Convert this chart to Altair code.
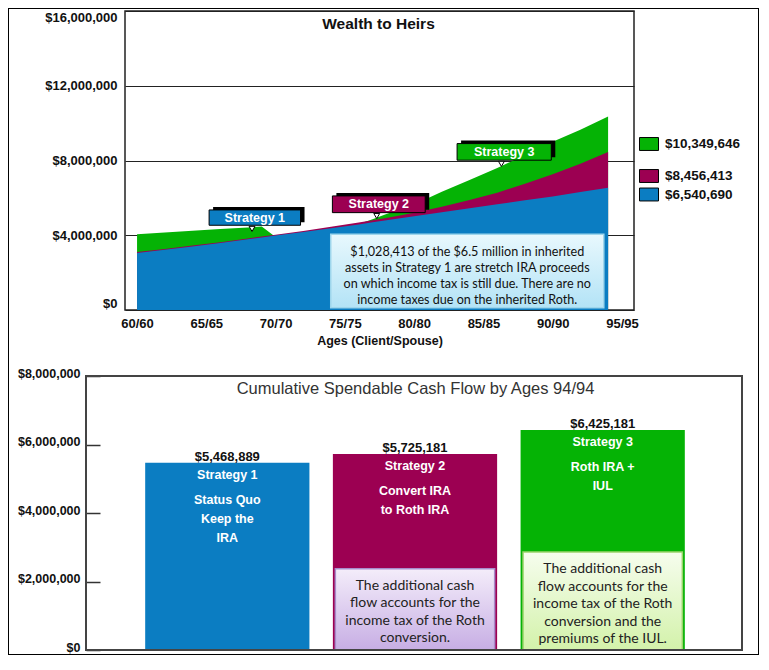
import altair as alt
import pandas as pd

# ---------------- data ----------------
ages = [60, 62, 64, 66, 68, 69, 70, 72, 74, 76, 77, 78, 80, 82, 84, 86, 88, 90, 92, 94]
strategy1_wealth = [3050000, 3220000, 3400000, 3580000, 3780000, 3880000, 3980000, 4170000, 4380000, 4580000,
                    4690000, 4800000, 5020000, 5230000, 5450000, 5660000, 5870000, 6080000, 6310000, 6540690]
strategy2_wealth = [3100000, 3270000, 3450000, 3630000, 3830000, 3930000, 4030000, 4230000, 4450000, 4680000,
                    4800000, 4920000, 5200000, 5520000, 5880000, 6280000, 6750000, 7270000, 7820000, 8456413]
strategy3_wealth = [4050000, 4150000, 4240000, 4330000, 4420000, 4470000, 3900000, 4050000, 4300000, 4600000,
                    4860000, 5140000, 5650000, 6330000, 6950000, 7600000, 8300000, 9000000, 9650000, 10349646]
strategies = ["Strategy 1", "Strategy 2", "Strategy 3"]
final_wealth = [6540690, 8456413, 10349646]
age_ticks = [60, 65, 70, 75, 80, 85, 90, 95]
wealth_ticks = [0, 4000000, 8000000, 12000000, 16000000]

cash_flow = [5468889, 5725181, 6425181]
cash_ticks = [0, 2000000, 4000000, 6000000, 8000000]
bar_descriptions = ["Status Quo\nKeep the\nIRA", "Convert IRA\nto Roth IRA", "Roth IRA +\nIUL"]
note_strategies = ["Strategy 2", "Strategy 3"]
note_tops = [2374000, 2860000]
notes = ["The additional cash\nflow accounts for the\nincome tax of the Roth\nconversion.",
         "The additional cash\nflow accounts for the\nincome tax of the Roth\nconversion and the\npremiums of the IUL."]

# annotation anchors (data units)
callout_left = [65.2, 74.1, 83.1]
callout_right = [71.8, 80.8, 89.9]
callout_low = [4535000, 5210000, 8016000]
callout_high = [5355000, 6105000, 8905000]
pointer_age = [68.3, 77.3, 86.3]
pointer_value = [4340000, 5030000, 7820000]
wealth_note = ("$1,028,413 of the $6.5 million in inherited\nassets in Strategy 1 are stretch IRA proceeds\n"
               "on which income tax is still due.  There are no\nincome taxes due on the inherited Roth.")
wealth_note_box = [73.98, 93.69, 120000, 4050000]

AGE_MIN, AGE_MAX = 59.13, 95.87
WEALTH_MAX = 16000000
CASH_MAX = 8000000

# ---------------- style / layout ----------------
COLORS = {"Strategy 1": "#0B7DC2", "Strategy 2": "#9C0052", "Strategy 3": "#05B305"}
ARIAL = "Liberation Sans"
CALIBRI = "Lato"
O = 9              # page offset of the view origin
W, H = 751, 647    # whole figure frame (fits the page without scrolling)
TOP_SHIFT = 2
BOT_SHIFT = -3


def X(px):
    return px - O


def YT(px):
    return px + TOP_SHIFT - O


def YB(px):
    return px + BOT_SHIFT - O


XS_TOP = alt.Scale(domain=[AGE_MIN, AGE_MAX], range=[X(126), X(635)], nice=False, zero=False)
YS_TOP = alt.Scale(domain=[0, WEALTH_MAX], range=[YT(309), YT(10)], nice=False, zero=False)
XS_BOT = alt.Scale(domain=strategies, range=[X(88), X(744)], paddingInner=0.125, paddingOuter=0.31)
YS_BOT = alt.Scale(domain=[0, CASH_MAX], range=[YB(654), YB(380)], nice=False, zero=False)
XS_FRAME = alt.Scale(domain=[0, 1], range=[X(87), X(743)], nice=False, zero=False)

AX_TOP_X = alt.Axis(orient="bottom", offset=YT(309) - H, values=age_ticks,
                    labelExpr="datum.value + '/' + datum.value", domain=False, ticks=False,
                    tickSize=0, grid=False, labelPadding=7, labelFont=ARIAL, labelFontSize=13,
                    labelFontWeight="bold", labelColor="#111", title="Ages (Client/Spouse)",
                    titleFont=ARIAL, titleFontSize=12.5, titleFontWeight="bold",
                    titleColor="#111", titlePadding=4)
AX_TOP_Y = alt.Axis(orient="left", offset=-X(126), values=wealth_ticks, format="$,.0f",
                    domain=False, ticks=False, tickSize=0, grid=True, gridColor="#222",
                    gridWidth=1, gridOpacity=1, labelPadding=8, labelFlush=True,
                    labelFont=ARIAL, labelFontSize=13, labelFontWeight="bold",
                    labelColor="#111", title="Wealth to Heirs", titleAngle=0, titleX=X(379) - X(126),
                    titleY=YT(22), titleAlign="center", titleBaseline="middle", titleFont=ARIAL,
                    titleFontSize=15.5, titleFontWeight="bold", titleColor="#111")
AX_BOT_X = alt.Axis(orient="top", offset=-YB(380), labels=False, ticks=False, domain=False, grid=False,
                    title="Cumulative Spendable Cash Flow by Ages 94/94", titleY=12,
                    titleBaseline="middle", titleFont=ARIAL, titleFontSize=16.5,
                    titleFontWeight="normal", titleColor="#333")
AX_BOT_Y = alt.Axis(orient="left", offset=-X(101), values=cash_ticks, format="$,.0f", domain=False,
                    grid=False, ticks=True, tickSize=14, tickColor="#333", tickWidth=1.5,
                    labelPadding=6, labelOffset=-3, labelFont=ARIAL, labelFontSize=12.5,
                    labelFontWeight="bold", labelColor="#111", title=None)

RECT_PATH = "M-1,-0.68H1V0.68H-1Z"


def tx(field):
    return alt.X(field, type="quantitative", scale=XS_TOP, axis=AX_TOP_X)


def ty(field):
    return alt.Y(field, type="quantitative", scale=YS_TOP, axis=AX_TOP_Y)


def bx():
    return alt.X("strategy:N", scale=XS_BOT, axis=AX_BOT_X)


def by(field):
    return alt.Y(field, type="quantitative", scale=YS_BOT, axis=AX_BOT_Y)


# ---------------- top chart ----------------
rows = []
for s, series, fv in zip(strategies, [strategy1_wealth, strategy2_wealth, strategy3_wealth], final_wealth):
    for a, v in zip(ages, series):
        rows.append({"age": a, "wealth": v, "strategy": s, "label": f"${fv:,}"})
wealth = pd.DataFrame(rows)

frame_df = pd.DataFrame({"a0": [AGE_MIN], "a1": [AGE_MAX], "w0": [0], "w1": [WEALTH_MAX]})
frame_top = alt.Chart(frame_df).mark_rect(color="white", fillOpacity=0, stroke="#222", strokeWidth=1.5).encode(
    x=tx("a0"), x2="a1:Q", y=ty("w0"), y2="w1:Q")

legend_top_px = {"Strategy 3": 133, "Strategy 2": 165, "Strategy 1": 183.5}


def area_layer(s):
    return alt.Chart(wealth).transform_filter(alt.datum.strategy == s).mark_area().encode(
        x=tx("age"),
        y=ty("wealth"),
        color=alt.Color("label:N", scale=alt.Scale(range=[COLORS[s]]),
                        legend=alt.Legend(orient="none", legendX=X(640), legendY=YT(legend_top_px[s]),
                                          title=None, symbolType=RECT_PATH, symbolSize=361,
                                          symbolStrokeColor="black", symbolStrokeWidth=1, symbolOpacity=1,
                                          padding=0, labelFont=ARIAL, labelFontSize=13.5,
                                          labelFontWeight="bold", labelColor="#111", labelOffset=6)),
    )


areas = [area_layer("Strategy 3"), area_layer("Strategy 2"), area_layer("Strategy 1")]

note_df = pd.DataFrame({"x1": [wealth_note_box[0]], "x2": [wealth_note_box[1]],
                        "y1": [wealth_note_box[2]], "y2": [wealth_note_box[3]],
                        "xm": [(wealth_note_box[0] + wealth_note_box[1]) / 2], "text": [wealth_note]})
cyan_grad = alt.Gradient(gradient="linear",
                         stops=[alt.GradientStop(color="#E8F8FD", offset=0),
                                alt.GradientStop(color="#B3E3F6", offset=1)],
                         x1=0, x2=0, y1=0, y2=1)
note_box = alt.Chart(note_df).mark_rect(fill=cyan_grad, stroke="#9ED6EC", strokeWidth=1.5).encode(
    x=tx("x1"), x2="x2:Q", y=ty("y1"), y2="y2:Q")
note_text = alt.Chart(note_df).mark_text(baseline="top", dy=11.5, lineBreak="\n", lineHeight=16,
                                         font=CALIBRI, fontSize=12.6, color="#111").encode(
    x=tx("xm"), y=ty("y2"), text="text:N")

callouts = pd.DataFrame({"strategy": strategies, "left": callout_left, "right": callout_right,
                         "low": callout_low, "high": callout_high,
                         "pa": pointer_age, "pv": pointer_value})
callouts["ma"] = (callouts["left"] + callouts["right"]) / 2
callouts["mv"] = (callouts["low"] + callouts["high"]) / 2

shadow = alt.Chart(callouts).mark_rect(color="black", xOffset=4, x2Offset=4, yOffset=-3, y2Offset=-3).encode(
    x=tx("left"), x2="right:Q", y=ty("low"), y2="high:Q")
boxes = alt.Chart(callouts).mark_rect(stroke="black", strokeWidth=1).encode(
    x=tx("left"), x2="right:Q", y=ty("low"), y2="high:Q",
    color=alt.Color("strategy:N", scale=alt.Scale(domain=strategies, range=[COLORS[s] for s in strategies]),
                    legend=None))
box_text = alt.Chart(callouts).mark_text(color="white", font=ARIAL, fontSize=12.5, fontWeight="bold",
                                         baseline="middle").encode(
    x=tx("ma"), y=ty("mv"), text="strategy:N")
pointers = alt.Chart(callouts).mark_point(shape="triangle-down", filled=True, fill="white", stroke="black",
                                          strokeWidth=1, size=35, opacity=1).encode(
    x=tx("pa"), y=ty("pv"))

top = alt.layer(frame_top, *areas, note_box, note_text, shadow, boxes, box_text, pointers).resolve_scale(
    color="independent")

# ---------------- bottom chart ----------------
bars_df = pd.DataFrame({"strategy": strategies, "cash": cash_flow, "desc": bar_descriptions,
                        "label": [f"${v:,}" for v in cash_flow]})
notes_df = pd.DataFrame({"strategy": note_strategies, "top": note_tops, "note": notes, "base": [0, 0]})

bars = alt.Chart(bars_df).mark_bar().encode(
    x=bx(), y=by("cash"),
    color=alt.Color("strategy:N", scale=alt.Scale(domain=strategies, range=[COLORS[s] for s in strategies]),
                    legend=None),
)
value_labels = alt.Chart(bars_df).mark_text(baseline="middle", dy=-5.5, font=ARIAL, fontSize=13,
                                            fontWeight="bold", color="#111").encode(
    x=bx(), y=by("cash"), text="label:N")
name_labels = alt.Chart(bars_df).mark_text(baseline="middle", dy=12.5, font=ARIAL, fontSize=12.5,
                                           fontWeight="bold", color="white").encode(
    x=bx(), y=by("cash"), text="strategy:N")
desc_labels = alt.Chart(bars_df).mark_text(baseline="top", dy=31.5, lineBreak="\n", lineHeight=19, font=ARIAL,
                                           fontSize=12.5, fontWeight="bold", color="white").encode(
    x=bx(), y=by("cash"), text="desc:N")

purple_grad = alt.Gradient(gradient="linear",
                           stops=[alt.GradientStop(color="#F4EDFA", offset=0),
                                  alt.GradientStop(color="#C7AEE4", offset=1)],
                           x1=0, x2=0, y1=0, y2=1)
green_grad = alt.Gradient(gradient="linear",
                          stops=[alt.GradientStop(color="#F6FDEE", offset=0),
                                 alt.GradientStop(color="#D3F2AA", offset=1)],
                          x1=0, x2=0, y1=0, y2=1)


def note_rect(s, grad, stroke):
    return alt.Chart(notes_df).transform_filter(alt.datum.strategy == s).mark_rect(
        width=alt.RelativeBandSize(0.97), fill=grad, stroke=stroke, strokeWidth=1.5).encode(
        x=bx(), y=by("top"), y2="base:Q")


note_rects = [note_rect("Strategy 2", purple_grad, "#A88CCB"), note_rect("Strategy 3", green_grad, "#9CD46C")]
note_texts = alt.Chart(notes_df).mark_text(baseline="top", dy=10, lineBreak="\n", lineHeight=17.5, font=CALIBRI,
                                           fontSize=14, color="#222").encode(
    x=bx(), y=by("top"), text="note:N")

bottom = alt.layer(bars, value_labels, name_labels, desc_labels, *note_rects, note_texts)

bframe_df = pd.DataFrame({"u0": [0], "u1": [1], "c0": [0], "c1": [CASH_MAX]})
frame_bottom = alt.Chart(bframe_df).mark_rect(color="white", fillOpacity=0, stroke="#444", strokeWidth=2).encode(
    x=alt.X("u0:Q", scale=XS_FRAME, axis=None), x2="u1:Q",
    y=alt.Y("c0:Q", scale=YS_BOT, axis=None), y2="c1:Q",
)

chart = alt.layer(top, bottom, frame_bottom).resolve_scale(
    x="independent", y="independent", color="independent"
).properties(
    width=W, height=H, padding=0, background="white",
).configure_view(stroke="black", strokeWidth=2)

chart.save("out.html", embed_options={"renderer": "svg", "actions": False})
